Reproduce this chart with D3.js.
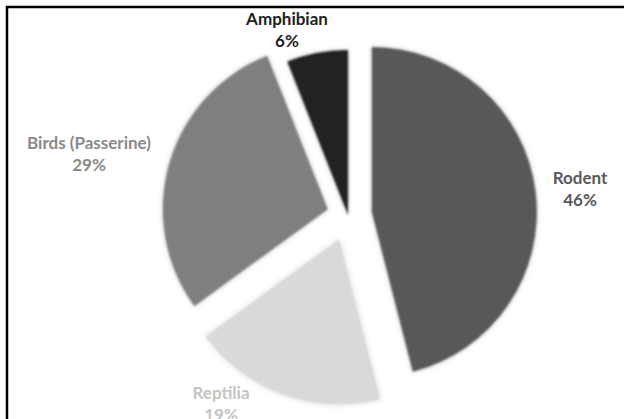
<!DOCTYPE html>
<meta charset="utf-8">
<html>
  <head>
    <style>
      body { margin: 0; background: #fff; }
      text.lbl {
          font-family: Lato, "Open Sans", sans-serif;
          font-weight: 700;
          font-size: 17px;
          text-anchor: middle;
      }
    </style>
    <script src="https://d3js.org/d3.v7.min.js"></script>
  </head>
  <body>
    <div id="chart"></div>
    <script>

      var width = 624,
	  height = 419;

      // data
      var categories = ["Rodent", "Reptilia", "Birds (Passerine)", "Amphibian"];
      var percents = [46, 19, 29, 6];
      var colors = ["#595959", "#d9d9d9", "#7f7f7f", "#232323"];
      var labelColors = ["#595959", "#c4c4c4", "#8a8a8a", "#1e1e1e"];

      // layout
      var cx = 348, cy = 215,
	  radius = 165,
	  explode = [24, 26, 21, 0],
	  labelPos = [[580, 184], [221, 399], [89, 149], [287, 25]],
	  lineGap = 22;

      var svg = d3.select('#chart').append('svg')
	  .attr('width', width)
	  .attr('height', height);

      var defs = svg.append('defs');
      var f = defs.append('filter')
	  .attr('id', 'soft')
	  .attr('x', '-20%').attr('y', '-20%')
	  .attr('width', '140%').attr('height', '140%');
      f.append('feGaussianBlur').attr('in', 'SourceGraphic').attr('stdDeviation', 0.8).attr('result', 'b');
      f.append('feDropShadow').attr('in', 'b').attr('dx', 0).attr('dy', 0)
	  .attr('stdDeviation', 2.5).attr('flood-color', '#000').attr('flood-opacity', 0.22);

      // frame (only left and top edges show in the crop)
      svg.append('path')
	  .attr('d', 'M7,' + height + 'V7H' + width)
	  .attr('fill', 'none')
	  .attr('stroke', '#000')
	  .attr('stroke-width', 2.5);

      var data = categories.map(function(c, i) {
	  return {name: c, value: percents[i], i: i};
      });

      var pie = d3.pie()
	  .sort(null)
	  .value(function(d) { return d.value; });

      var arc = d3.arc()
	  .innerRadius(0)
	  .outerRadius(radius);

      var arcs = pie(data);

      var g = svg.append('g')
	  .attr('transform', 'translate(' + cx + ',' + cy + ')');

      g.selectAll('path.slice')
	  .data(arcs)
	  .enter().append('path')
	  .attr('class', 'slice')
	  .attr('d', arc)
	  .attr('fill', function(d) { return colors[d.data.i]; })
	  .attr('filter', 'url(#soft)')
	  .attr('transform', function(d) {
	      var a = (d.startAngle + d.endAngle) / 2,
		  e = explode[d.data.i];
	      return 'translate(' + (Math.sin(a) * e) + ',' + (-Math.cos(a) * e) + ')';
	  });

      var labels = svg.selectAll('g.lab')
	  .data(arcs)
	  .enter().append('g')
	  .attr('class', 'lab')
	  .attr('transform', function(d) {
	      var p = labelPos[d.data.i];
	      return 'translate(' + p[0] + ',' + p[1] + ')';
	  });

      labels.append('text')
	  .attr('class', 'lbl')
	  .attr('fill', function(d) { return labelColors[d.data.i]; })
	  .text(function(d) { return d.data.name; });

      labels.append('text')
	  .attr('class', 'lbl')
	  .attr('y', lineGap)
	  .attr('fill', function(d) { return labelColors[d.data.i]; })
	  .text(function(d) { return d.data.value + '%'; });

    </script>
  </body>
</html>
